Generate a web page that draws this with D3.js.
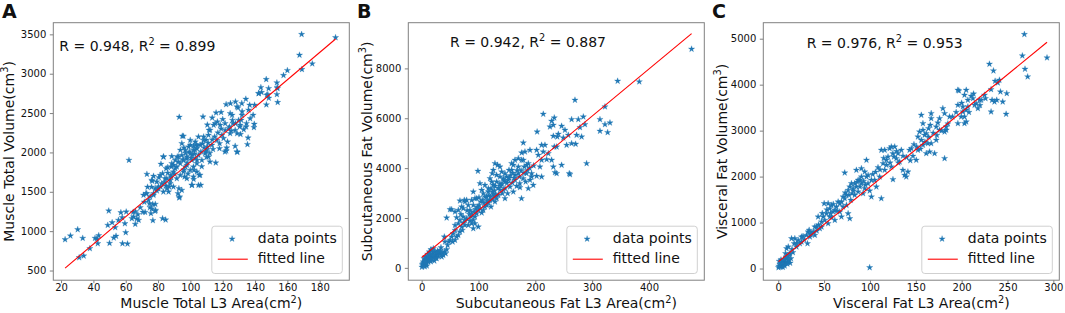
<!DOCTYPE html>
<html>
<head>
<meta charset="utf-8">
<script src="https://cdn.jsdelivr.net/npm/d3@7"></script>
<style>
    body { margin: 0; background: #fff; }
    svg text { font-family: "DejaVu Sans", sans-serif; fill: #111; }
</style>
</head>
<body>
<div id="chart"></div>
<script>
// panel A: muscle, [L3 area cm2, total volume cm3]
var musclePoints = [
    [22.5,894],[25.8,941],[30.3,1021],[33.4,911],[31.2,665],[34,686],[37.8,780],[41,911],[43.3,945],[42.7,843],
    [42.1,903],[49.5,1258],[50,847],[48.9,1076],[51.6,1110],[53.5,1047],[52.6,915],[54,937],[55.5,1140],[57,1237],
    [58,843],[59.5,1097],[60.3,1246],[61.1,839],[60,983],[57.8,1174],[62,1902],[64.6,1242],[64.8,1182],[65.9,1089],
    [66.9,1157],[67.5,1212],[68,1140],[63.8,1161],[70.6,1242],[71,1458],[72.5,1479],[73.1,1724],[74.1,1394],[75,1301],
    [75.6,1225],[76.8,1136],[77.2,1458],[77.2,1699],[76.4,1636],[78.3,1343],[78.5,1267],[79.3,1513],[80.1,1542],[82.8,1161],
    [84.7,1144],[81.8,1852],[83.4,1945],[81.6,1563],[82.8,1733],[84.3,1669],[84.9,1576],[86.9,1563],[86.5,1500],[87.6,1648],
    [88.2,1818],[89.6,1839],[90.7,1797],[92.3,1479],[93.1,1424],[92.9,1542],[91.9,1945],[93.1,2449],[95,2208],[93.8,2030],
    [95.4,1911],[96.9,1818],[97.9,1924],[96.4,1691],[101,1585],[102.2,1775],[98.9,2072],[99.3,2008],[101,1966],[102.9,2030],
    [104.1,1902],[105.5,1712],[106.4,1585],[104.1,2085],[107.8,2453],[108.2,2199],[109.7,2157],[110.5,2072],[109.5,2008],[112.1,1881],
    [115.7,1869],[111.5,2284],[114.4,2347],[115.9,2504],[116.7,2390],[115,2199],[118.1,2114],[121.4,2008],[122.5,2059],[122.1,2610],
    [124.8,2623],[127.9,2644],[129.5,2568],[129.1,2004],[128.9,2241],[127.9,2369],[125.8,2474],[123.7,2305],[125.2,2271],[130.5,2326],
    [131.4,2411],[134.3,2678],[136.7,2602],[138.8,2474],[134.7,2369],[135.7,2186],[135.3,2102],[139.5,2360],[139.3,2318],[139.7,2602],
    [131.8,2623],[189.8,3460],[168.8,3500],[167.5,3237],[175.4,3127],[169,3055],[160,3042],[157.6,2979],[146.9,2928],[153.5,2886],
    [153.7,2826],[143.6,2826],[144,2763],[142.3,2750],[147.9,2737],[148.5,2691],[153.5,2737],[154,2636],[147,2606],[128.8,2580],
    [124.6,2495],[131.9,2474],[134.5,2326],[128.8,2008],[127.7,2080],[123,2135],[122.2,2020],[111.2,1944],[110.2,2037],[113.3,2093],
    [116.4,2156],[119.5,2220],[121.5,2283],[124.2,2326],[126.3,2368],[129.8,2410],[130.8,2347],[127.7,2283],[124.6,2241],[121.5,2368],
    [118.4,2347],[115.3,2368],[112.2,2283],[111.2,2220],[108.1,2156],[106,2093],[104,2050],[101.9,2029],[99.9,1987],[97.8,1944],
    [95.7,1902],[93.7,1860],[91.6,1817],[89.5,1754],[87.9,1711],[85.4,1669],[82.3,1605],[80.2,1563],[78.2,1542],[105,2198],
    [103,2135],[99.9,2093],[96.8,2029],[94.7,1965],[97.8,1838],[99.9,1775],[101.9,1817],[104,1860],[107.1,1902],[109.1,1987],
    [105,1965],[103,1923],[100.9,1902],[95.7,1754],[93.7,1711],[91.6,1669],[90.6,1902],[88.5,1860],[92.6,1944],[94.7,2114],
    [95.7,2207],[99.9,2156],[101.9,2080],[105,1584],[100.9,1584],[106,1711],[101.9,1690],[104,1754],[97.8,1669],[94.7,1521],
    [93.3,1436],[89.5,1563],[87.5,1605],[85.4,1542],[83.3,1499],[81.3,1711],[83.3,1944],[85,1796],[76.1,1648],[79.2,1626],
    [73,1478],[77.2,1478],[75.1,1436],[76.7,1343],[76.1,1283],[74.7,1351],[72,1241],[78.2,1254],[142.2,2749],[147.3,2728],
    [148.4,2813],[153.9,2813],[98,1870],[100.5,1930],[102.5,1980],[106.5,2010],[108.5,2060],[111,2120],[113.5,2160],[117,2250],
    [119,2300],[120.5,2180],[118,2050],[114,2040],[112,1990],[107.5,2110],[103.5,2100],[97,1990],[96,2060],[92.5,1880],
    [90,1730],[88,1690],[86,1740],[84,1620],[96,1780],[98.5,1730],[102,1660],[107,1820],[110,1940],[120,2420],
    [126,2410],[132,2520],[136,2540],[133,2290],[137,2430],[131,2230],[119,2510],[110.5,2350],[113.5,2440],[69,1300],
    [71.5,1370],[66,1250],[73.5,1560],[80.5,1680],[86,1810],[88.5,1950],[76,1560]
];

// panel B: subcutaneous fat
var subFatPoints = [
    [0.5,30],[1.2,147],[2.9,241],[4.7,107],[5.9,308],[7.6,201],[9.4,335],[11.7,241],[12.9,415],[14.7,308],
    [16.4,468],[17.6,335],[19.4,575],[20.5,415],[22.3,281],[24.6,508],[26.4,375],[29.3,468],[16.4,736],[20.5,776],
    [32.3,575],[35.2,442],[38.1,508],[39.9,642],[42.2,575],[44,736],[45.7,910],[34,816],[7,442],[10.6,549],
    [13.5,642],[4.1,375],[23.5,642],[28.2,682],[48.1,1043],[52.8,1244],[44,2007],[49.9,2342],[52.8,2342],[58.7,1512],
    [58.7,1713],[55.7,1378],[64.5,1780],[61.6,2020],[58.7,2248],[67.4,1914],[70.4,1646],[73.3,1806],[76.2,1914],[67.4,2689],
    [70.4,2449],[73.3,2382],[79.2,2716],[82.1,2515],[85,2315],[88,2181],[90.9,1579],[93.8,1780],[99.7,1646],[96.8,2783],
    [99,3880],[90.9,3051],[102.6,3385],[105.6,3118],[111.4,3318],[117.3,3184],[126.1,3920],[129,4188],[133.7,4121],[137.8,4054],
    [124.3,3787],[131.9,3720],[140.8,3853],[120.2,3586],[114.4,2850],[106.7,2716],[100.9,2515],[111.4,2449],[120.2,2716],[126.1,2984],
    [129,3278],[137.8,3385],[146.6,3452],[149.6,3653],[152.5,3519],[143.7,3118],[134.9,2917],[129,2649],[146.6,2783],[155.4,3251],
    [158.4,3920],[161.3,4121],[164.2,4322],[170.1,4389],[176,4616],[178.9,4322],[181.8,4656],[184.8,4121],[187.7,4188],[190.6,4723],
    [170.1,3787],[164.2,3519],[172.7,3385],[175.7,2783],[178.6,3586],[184.5,3787],[193.5,3787],[196.4,3318],[202.3,3680],[211.1,3653],
    [187.7,3184],[208.2,4054],[211.1,4322],[205.3,4522],[214,4656],[217,4924],[211.1,4924],[202.3,4723],[222.9,4589],[220,4348],
    [228.7,4322],[231.7,4054],[234.6,3827],[237.5,4857],[246.3,4121],[259.8,3787],[178.9,5018],[225.8,5660],[231.7,5726],[231.7,5285],
    [240.5,5365],[246.3,5687],[252.2,5526],[258,5325],[263.9,4991],[271,4964],[255.1,4924],[238.7,5258],[214,6168],[263.9,5954],
    [275.7,5954],[284.5,6061],[278.6,5633],[281.5,5258],[290.3,4188],[203.2,5459],[344.9,7493],[383,7466],[475,8777],[269.8,6730],
    [322.6,6463],[313.8,5954],[287.4,5753],[313.8,5486],[322.6,5753],[331.4,5820],[327.3,5432],[261,3746],[249.3,5218],[272.7,5325],
    [228.7,5887],[233.4,6021],[233.4,4857],[237.5,3787],[93.8,2047],[96.8,2181],[99.7,2315],[102.6,2382],[105.6,2208],[108.5,2315],
    [114.4,2515],[117.3,2609],[122,2449],[124.9,2743],[127.9,2877],[132,2783],[137.8,3118],[142,2984],[146.6,3184],[151.3,2984],
    [159.5,3412],[164.2,3720],[90.9,1913],[88,1780],[85,1887],[79.2,1980],[82.1,1713],[76.2,1713],[71.6,1512],[67.4,1445],
    [64.5,1311],[61.6,1244],[58.7,1111],[54.5,1044],[49.9,1111],[41,1044],[39.9,1244],[64.5,2315],[75,2716],[76.2,2649],
    [88,2716],[90.9,2515],[93.8,2783],[100.9,2823],[111.4,2850],[108.5,2984],[117.3,3051],[122,3184],[126.1,3318],[123.2,3452],
    [132,3452],[137.8,3653],[143.7,3586],[146.6,3787],[153.7,3920],[158.4,4188],[170.1,4054],[176,4322],[180.6,4054],[161.3,3051],
    [167.2,3278],[173,3224],[183,3452],[190.6,3519],[193.5,3653],[3,180],[6,260],[8.5,170],[11,330],[14,400],
    [16,250],[18,380],[21,520],[25,400],[27,560],[30,620],[33,700],[36,600],[2,90],[5.5,50],
    [9,80],[12.5,470],[15.5,560],[19,700],[110,2600],[115,2700],[118,2900],[121,2850],[125,3050],[128,3100],
    [130,2950],[135,3200],[139,3280],[141,3350],[145,3500],[150,3400],[154,3600],[156,3700],[160,3800],[163,3600],
    [168,3900],[172,3650],[175,3900],[180,3800],[186,3900],[190,4000],[197,4100],[104,2650],[98,2450],[95,2350],
    [92,2250],[87,2050],[84,2150],[80,2300],[73,2050],[69,2150]
];

// panel C: visceral fat
var visFatPoints = [
    [0.3,22],[0.7,51],[1.8,94],[2.9,36],[3.6,123],[4.7,73],[5.4,145],[6.5,94],[7.3,181],[8.3,123],
    [9.4,218],[10.2,145],[10.9,269],[11.6,181],[12.7,327],[13.8,218],[8,327],[9.1,435],[10.9,472],[14.5,653],
    [18.1,653],[17.4,544],[19.9,472],[21.8,617],[23.6,544],[25.4,689],[28.3,631],[30.8,726],[32.6,798],[34.5,689],
    [36.3,762],[33.7,835],[31.9,544],[38.1,798],[39.9,726],[41.7,907],[45.3,871],[43.5,1125],[47.2,1016],[49,1125],
    [50.8,1052],[52.6,1197],[50.1,1415],[54.4,1415],[56.2,1306],[58,1379],[59.8,1234],[58,1125],[54.4,980],[61.7,1052],
    [63.5,1343],[65.3,1451],[67.1,1234],[68.9,1125],[70.7,1343],[72.5,1524],[74.4,1379],[76.2,1197],[78,1088],[79.1,1488],
    [80.5,1633],[81.6,1742],[83.4,1597],[85.2,1778],[87.1,1669],[88.9,1923],[90.7,1850],[92.5,1633],[94.3,1742],[96.2,1996],
    [97.9,1850],[96.2,2359],[72.5,2083],[85.2,2141],[90.7,2177],[78,1778],[101.6,1560],[99.7,1691],[105.2,1923],[107,1778],
    [110.6,1996],[112.4,1524],[108.8,2199],[112.4,2576],[114.3,2286],[116.1,2141],[117.9,2359],[121.5,2612],[123.3,2649],[127,2649],
    [128.8,2395],[125.1,1938],[123.3,2213],[130.6,2504],[132.4,2322],[134.2,2576],[135.9,2141],[137.8,2032],[139.6,1996],[141.4,2105],
    [143.2,2576],[145.1,2612],[146.9,2446],[150.5,2359],[152.3,2576],[154.1,2975],[156,2794],[157.8,2685],[159.6,2903],[161.4,2504],
    [163.2,2721],[165,2540],[166.8,2721],[170.5,2504],[172.3,2794],[174.1,3171],[175.9,3012],[156,3338],[157.8,3157],[163.9,3048],
    [166.8,3266],[179.5,3483],[181.4,3375],[183.2,3012],[181.4,2395],[186.8,3302],[195.9,3556],[197,3868],[199.5,3302],[201.3,3411],
    [203.1,3157],[205,3882],[206.8,3520],[205,3193],[210.4,3752],[212.3,3701],[214.1,3556],[217.7,3483],[219.5,3665],[119.7,2431],
    [126.2,2431],[116.1,2576],[101.6,1923],[94.3,2105],[90.7,1996],[87.1,1923],[83.4,1850],[79.8,1850],[76.2,1705],[74.4,1597],
    [70.7,1560],[67.1,1415],[61.7,1270],[56.2,1125],[47.2,907],[39.9,907],[25.4,581],[99.7,22],[268.4,5094],[266.2,4630],
    [293.1,4586],[269.1,4340],[272,4173],[230.3,4449],[234.7,4303],[236.5,4078],[239.4,4042],[241.2,4100],[242.3,3846],[232.1,3897],
    [249.2,3810],[233.2,3665],[235.8,3628],[238.3,3665],[232.1,3411],[244.8,3628],[248.5,3360],[224.9,3774],[221.3,3665],[215.8,3592],
    [195.9,3882],[203.1,3774],[206.8,3665],[201.3,3520],[204.9,3447],[203.1,3302],[195.9,3157],[183.2,3084],[181.4,2975],[175.9,3266],
    [172.3,3084],[165.8,3120],[166.8,3375],[157.8,3012],[152.3,2866],[161.4,2939],[1,160],[2.2,60],[3,190],[4,110],
    [5,30],[6,200],[7,60],[8.8,250],[10,100],[12,300],[13,120],[15,420],[16,350],[20,550],
    [27,700],[35,750],[42,820],[44,950],[48,1200],[53,1280],[57,1200],[60,1400],[64,1250],[69,1450],
    [73,1650],[77,1600],[82,1690],[86,1880],[89,1780],[93,1900],[95,1820],[98,2030],[103,2050],[106,2100],
    [111,2150],[115,2400],[118,2250],[122,2300],[125,2500],[129,2550],[131,2300],[136,2450],[140,2420],[144,2350],
    [148,2700],[151,2650],[155,2600],[160,2750],[164,2860],[169,2950],[173,2900],[178,3000],[185,3150],[190,3300],
    [194,3400],[200,3600],[208,3400],[213,3800],[220,3550],[226,3700]
];

// fitted lines: [intercept, slope]
var muscleFit = [140, 17.39];
var subFatFit = [415, 18.9];
var visFatFit = [145, 16.3];

// R, R2
var muscleR = ["0.948", "0.899"];
var subFatR = ["0.942", "0.887"];
var visFatR = ["0.976", "0.953"];

// tick labels
var muscleXTicks = [20, 40, 60, 80, 100, 120, 140, 160, 180];
var muscleYTicks = [500, 1000, 1500, 2000, 2500, 3000, 3500];
var subFatXTicks = [0, 100, 200, 300, 400];
var subFatYTicks = [0, 2000, 4000, 6000, 8000];
var visFatXTicks = [0, 50, 100, 150, 200, 250, 300];
var visFatYTicks = [0, 1000, 2000, 3000, 4000, 5000];

var pointColor = "#1f77b4";
var lineColor = "#ff0000";
var frameColor = "#808080";
var plotTop = 22.7;
var plotW = 296;
var plotH = 257.5;

var svg = d3.select('#chart')
    .append('svg')
    .attr('width', 1065)
    .attr('height', 313);

function supText(sel, before, sup, after, fs) {
    sel.append('tspan').text(before);
    sel.append('tspan').attr('dy', -fs * 0.42).attr('font-size', fs * 0.7).text(sup);
    sel.append('tspan').attr('dy', fs * 0.42).text(after);
}

function drawScatterPanel(cfg) {

    var g = svg.append('g')
        .attr('transform', 'translate(' + cfg.left + ',' + plotTop + ')');

    var xScale = d3.scaleLinear().domain(cfg.xDomain).range([0, plotW]);
    var yScale = d3.scaleLinear().domain(cfg.yDomain).range([plotH, 0]);

    var xAxis = d3.axisBottom(xScale).tickValues(cfg.xTicks)
        .tickFormat(d3.format('d')).tickSize(3).tickPadding(0.5);
    var yAxis = d3.axisLeft(yScale).tickValues(cfg.yTicks)
        .tickFormat(d3.format('d')).tickSize(3.5).tickPadding(3.5);

    g.append('g')
        .attr('class', 'x axis')
        .attr('transform', 'translate(0,' + plotH + ')')
        .call(xAxis);

    g.append('g')
        .attr('class', 'y axis')
        .call(yAxis);

    g.selectAll('.axis .domain').remove();
    g.selectAll('.axis line').attr('stroke', frameColor);
    g.selectAll('.axis text')
        .attr('fill', '#222')
        .style('font-size', '10px');

    // points
    var star = d3.symbol().type(d3.symbolStar).size(12);
    g.append('g')
        .selectAll('path')
        .data(cfg.points).enter()
        .append('path')
        .attr('d', star)
        .attr('transform', d => 'translate(' + xScale(d[0]) + ',' + yScale(d[1]) + ')')
        .attr('fill', pointColor)
        .attr('stroke', pointColor)
        .attr('stroke-width', 0.3);

    // fitted line over the data range
    var ext = d3.extent(cfg.points, d => d[0]);
    var fitLine = d3.line()
        .x(d => xScale(d))
        .y(d => yScale(cfg.fit[0] + cfg.fit[1] * d));
    g.append('path')
        .attr('d', fitLine(ext))
        .attr('fill', 'none')
        .attr('stroke', lineColor)
        .attr('stroke-width', 1.1);

    // frame
    g.append('rect')
        .attr('width', plotW)
        .attr('height', plotH)
        .attr('fill', 'none')
        .attr('stroke', frameColor)
        .attr('stroke-width', 1);

    // R text
    var rt = g.append('text')
        .attr('x', cfg.rX)
        .attr('y', cfg.rY)
        .style('font-size', '14px');
    supText(rt, 'R = ' + cfg.r[0] + ', R', '2', ' = ' + cfg.r[1], 14);

    // axis labels
    var xl = g.append('text')
        .attr('x', plotW / 2 + 10)
        .attr('y', plotH + 28.3)
        .attr('text-anchor', 'middle')
        .style('font-size', '14px');
    supText(xl, cfg.xLabel + '(cm', '2', ')', 14);

    var yl = g.append('text')
        .attr('transform', 'translate(' + cfg.yLabelX + ',' + (plotH / 2) + ') rotate(-90)')
        .attr('text-anchor', 'middle')
        .style('font-size', '14px');
    supText(yl, cfg.yLabel + '(cm', '3', ')', 14);

    // panel letter
    g.append('text')
        .attr('x', -51.3)
        .attr('y', -4.4)
        .style('font-size', '19px')
        .style('font-weight', 'bold')
        .text(cfg.letter);

    // legend
    var lw = 130.5, lh = 47.3;
    var legend = g.append('g')
        .attr('class', 'legend')
        .attr('transform', 'translate(' + (plotW - 7 - lw) + ',' + (plotH - 6.7 - lh) + ')');

    legend.append('rect')
        .attr('width', lw)
        .attr('height', lh)
        .attr('rx', 3)
        .attr('fill', '#fff')
        .attr('fill-opacity', 0.8)
        .attr('stroke', '#d0d0d0');

    legend.append('path')
        .attr('d', star)
        .attr('transform', 'translate(20.3,12.7)')
        .attr('fill', pointColor)
        .attr('stroke', pointColor)
        .attr('stroke-width', 0.3);

    legend.append('text')
        .attr('x', 46)
        .attr('y', 16.7)
        .style('font-size', '14px')
        .text('data points');

    legend.append('line')
        .attr('x1', 6).attr('x2', 36)
        .attr('y1', 33).attr('y2', 33)
        .attr('stroke', lineColor)
        .attr('stroke-width', 1.1);

    legend.append('text')
        .attr('x', 46)
        .attr('y', 37.3)
        .style('font-size', '14px')
        .text('fitted line');
}

drawScatterPanel({
    left: 53.3, letter: 'A', points: musclePoints, fit: muscleFit, r: muscleR,
    xDomain: [15.2, 198.3], yDomain: [377, 3648],
    xTicks: muscleXTicks, yTicks: muscleYTicks,
    rX: 6, rY: 28, yLabelX: -39.8,
    xLabel: 'Muscle Total L3 Area', yLabel: 'Muscle Total Volume'
});

drawScatterPanel({
    left: 408.3, letter: 'B', points: subFatPoints, fit: subFatFit, r: subFatR,
    xDomain: [-23.5, 497.4], yDomain: [-495, 9833],
    xTicks: subFatXTicks, yTicks: subFatYTicks,
    rX: 41.7, rY: 24.6, yLabelX: -36.4,
    xLabel: 'Subcutaneous Fat L3 Area', yLabel: 'Subcutaneous Fat Volume'
});

drawScatterPanel({
    left: 763.3, letter: 'C', points: visFatPoints, fit: visFatFit, r: visFatR,
    xDomain: [-16.3, 306.5], yDomain: [-254, 5348],
    xTicks: visFatXTicks, yTicks: visFatYTicks,
    rX: 43.4, rY: 25.6, yLabelX: -36.4,
    xLabel: 'Visceral Fat L3 Area', yLabel: 'Visceral Fat Volume'
});
</script>
</body>
</html>
